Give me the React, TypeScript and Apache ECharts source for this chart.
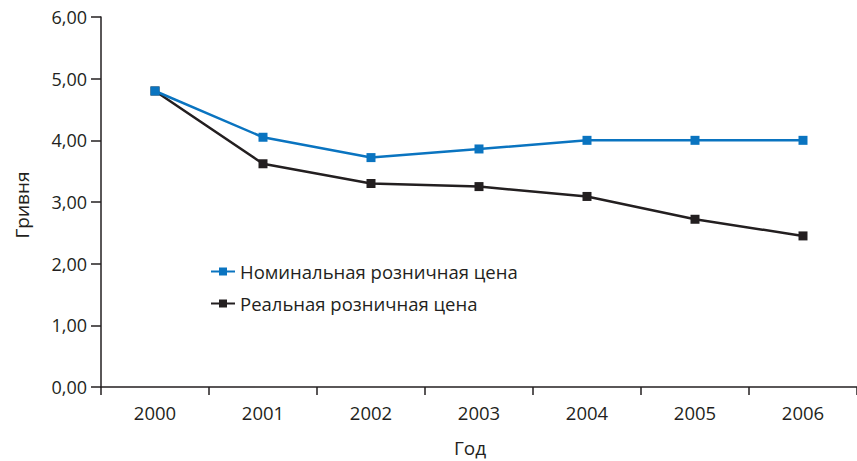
import React, { useEffect, useRef } from "react";
import * as echarts from "echarts";

const years = ["2000", "2001", "2002", "2003", "2004", "2005", "2006"];
const nominal = [4.8, 4.05, 3.72, 3.86, 4.0, 4.0, 4.0];
const real = [4.8, 3.62, 3.3, 3.25, 3.09, 2.72, 2.45];
const seriesNames = ["Номинальная розничная цена", "Реальная розничная цена"];
const yTitle = "Гривня";
const xTitle = "Год";

const FONT = "'Open Sans', 'Noto Sans', sans-serif";
const DARK = "#231f20";
const BLUE = "#0a74c0";

export default function App() {
  const ref = useRef<HTMLDivElement>(null);
  useEffect(() => {
    if (!ref.current) return;
    const chart = echarts.init(ref.current, undefined, { renderer: "svg" });
    chart.setOption({
      animation: false,
      backgroundColor: "#ffffff",
      grid: { left: 101, top: 17, bottom: 74, right: -7, containLabel: false },
      legend: {
        orient: "vertical",
        left: 205,
        top: 257,
        itemGap: 13,
        itemWidth: 24,
        itemHeight: 10,
        textStyle: { fontFamily: FONT, fontSize: 18.5, color: DARK },
        data: seriesNames,
      },
      xAxis: {
        type: "category",
        data: years,
        boundaryGap: true,
        axisLine: { lineStyle: { color: DARK, width: 1.5 } },
        axisTick: { show: true, length: 8, inside: false, lineStyle: { color: DARK, width: 1.5 } },
        axisLabel: { fontFamily: FONT, fontSize: 18.5, color: DARK, margin: 16 },
      },
      yAxis: {
        type: "value",
        min: 0,
        max: 6,
        interval: 1,
        splitLine: { show: false },
        axisLine: { show: true, lineStyle: { color: DARK, width: 1.5 } },
        axisTick: { show: true, length: 10, lineStyle: { color: DARK, width: 1.5 } },
        axisLabel: {
          fontFamily: FONT,
          fontSize: 18,
          color: DARK,
          margin: 14,
          formatter: (v: number) => v.toFixed(2).replace(".", ","),
        },
      },
      graphic: [
        {
          type: "text",
          x: 22,
          y: 205,
          rotation: Math.PI / 2,
          style: {
            text: yTitle,
            fontFamily: FONT,
            fontSize: 19,
            fill: DARK,
            align: "center",
            verticalAlign: "middle",
          },
        },
        {
          type: "text",
          x: 470,
          y: 448,
          style: {
            text: xTitle,
            fontFamily: FONT,
            fontSize: 19,
            fill: DARK,
            align: "center",
            verticalAlign: "middle",
          },
        },
      ],
      series: [
        {
          name: seriesNames[0],
          type: "line",
          data: nominal,
          symbol: "rect",
          symbolSize: 9,
          lineStyle: { color: BLUE, width: 2.5 },
          itemStyle: { color: BLUE },
          z: 3,
        },
        {
          name: seriesNames[1],
          type: "line",
          data: real,
          symbol: "rect",
          symbolSize: 9,
          lineStyle: { color: DARK, width: 2.5 },
          itemStyle: { color: DARK },
          z: 2,
        },
      ],
    });
    return () => chart.dispose();
  }, []);
  return (
    <div
      ref={ref}
      style={{ position: "fixed", left: 0, top: 0, width: 857, height: 461, background: "#fff" }}
    />
  );
}
